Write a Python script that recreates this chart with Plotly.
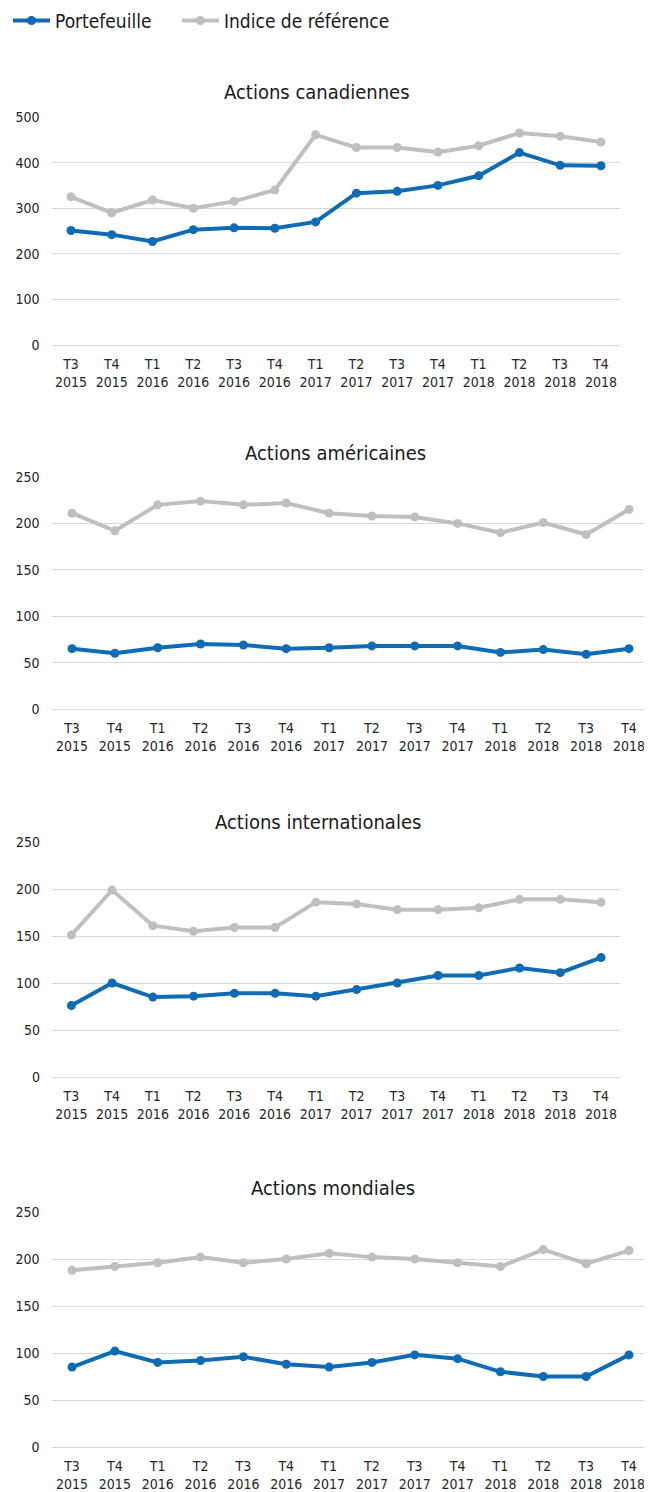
import plotly.graph_objects as go

quarters = ["T3 2015", "T4 2015", "T1 2016", "T2 2016", "T3 2016", "T4 2016", "T1 2017",
            "T2 2017", "T3 2017", "T4 2017", "T1 2018", "T2 2018", "T3 2018", "T4 2018"]
tick_text = [q.replace(" ", "<br>") for q in quarters]

series_names = ["Portefeuille", "Indice de référence"]
titles = ["Actions canadiennes", "Actions américaines", "Actions internationales", "Actions mondiales"]

can_port = [251, 242, 227, 253, 257, 256, 270, 333, 337, 350, 371, 422, 394, 393]
can_ref = [325, 290, 318, 300, 315, 340, 461, 433, 433, 423, 437, 465, 458, 445]

us_port = [65, 60, 66, 70, 69, 65, 66, 68, 68, 68, 61, 64, 59, 65]
us_ref = [211, 192, 220, 224, 220, 222, 211, 208, 207, 200, 190, 201, 188, 215]

intl_port = [76, 100, 85, 86, 89, 89, 86, 93, 100, 108, 108, 116, 111, 127]
intl_ref = [151, 199, 161, 155, 159, 159, 186, 184, 178, 178, 180, 189, 189, 186]

world_port = [85, 102, 90, 92, 96, 88, 85, 90, 98, 94, 80, 75, 75, 98]
world_ref = [188, 192, 196, 202, 196, 200, 206, 202, 200, 196, 192, 210, 195, 209]

y_max = [500, 250, 250, 250]
y_dtick = [100, 50, 50, 50]

panels = [(can_port, can_ref), (us_port, us_ref), (intl_port, intl_ref), (world_port, world_ref)]

W, H = 652, 1492
OFF = 8  # page body margin
BLUE = "#0E6BB4"
GRAY = "#BEC0C0"
GRID = "#D9D9D9"
FONT = "DejaVu Sans Condensed, DejaVu Sans, sans-serif"

# layout in viewport pixels (body margin compensated below)
x_px = [(50.6, 621.4), (50.6, 650.4), (51.0, 621.4), (50.6, 650.4)]
y_px = [(117, 345), (477, 709), (842, 1077), (1212, 1447)]
title_px = [(317, 92), (335, 453), (318, 822), (333, 1188)]

fig = go.Figure()
layout = {}
for i, ((port, ref), (x0, x1), (yt, yb)) in enumerate(zip(panels, x_px, y_px)):
    n = i + 1
    xa = "x" if n == 1 else f"x{n}"
    ya = "y" if n == 1 else f"y{n}"
    for vals, name, color, lg in ((ref, series_names[1], GRAY, "legend2"),
                                  (port, series_names[0], BLUE, "legend")):
        fig.add_trace(go.Scatter(
            x=quarters, y=vals, name=name, mode="lines+markers",
            line=dict(color=color, width=4),
            marker=dict(color=color, size=9),
            xaxis=xa, yaxis=ya, showlegend=(n == 1), legend=lg,
            cliponaxis=False,
        ))
    layout[f"xaxis{'' if n == 1 else n}"] = dict(
        domain=[(x0 - OFF) / W, min((x1 - OFF) / W, 1)], anchor=ya, type="category",
        categoryorder="array", categoryarray=quarters,
        tickvals=quarters, ticktext=tick_text, range=[-0.5, 13.5],
        showgrid=False, showline=False, zeroline=False, ticks="", automargin=False,
        ticklabelstandoff=9,
        tickfont=dict(size=14, color="#262626", family=FONT), fixedrange=True,
    )
    layout[f"yaxis{'' if n == 1 else n}"] = dict(
        domain=[1 - (yb - OFF) / H, 1 - (yt - OFF) / H], anchor=xa,
        range=[0, y_max[i]], dtick=y_dtick[i],
        showgrid=True, gridcolor=GRID, gridwidth=1, zeroline=True, zerolinecolor=GRID,
        zerolinewidth=1, showline=False, ticks="", ticklabelstandoff=10, automargin=False,
        tickfont=dict(size=14, color="#262626", family=FONT), fixedrange=True,
    )

annotations = []
for t, (tx, ty) in zip(titles, title_px):
    annotations.append(dict(
        text=t, x=(tx - OFF) / W, y=1 - (ty - OFF) / H, xref="paper", yref="paper",
        xanchor="center", yanchor="middle", showarrow=False,
        font=dict(size=20, color="#1A1A1A", family=FONT),
    ))

legend_common = dict(orientation="h", xanchor="left", y=1 - (20.7 - OFF) / H, yanchor="middle",
                     font=dict(size=19, color="#1A1A1A", family=FONT),
                     itemwidth=37, bgcolor="rgba(0,0,0,0)")

fig.update_layout(
    width=W, height=H,
    margin=dict(l=0, r=0, t=0, b=0, autoexpand=False),
    paper_bgcolor="white", plot_bgcolor="white",
    font=dict(family=FONT, size=14, color="#262626"),
    showlegend=True,
    legend=dict(x=0, **legend_common),
    legend2=dict(x=(182 - OFF - 5) / W, **legend_common),
    annotations=annotations,
    **layout,
)

fig.write_html("out.html")
